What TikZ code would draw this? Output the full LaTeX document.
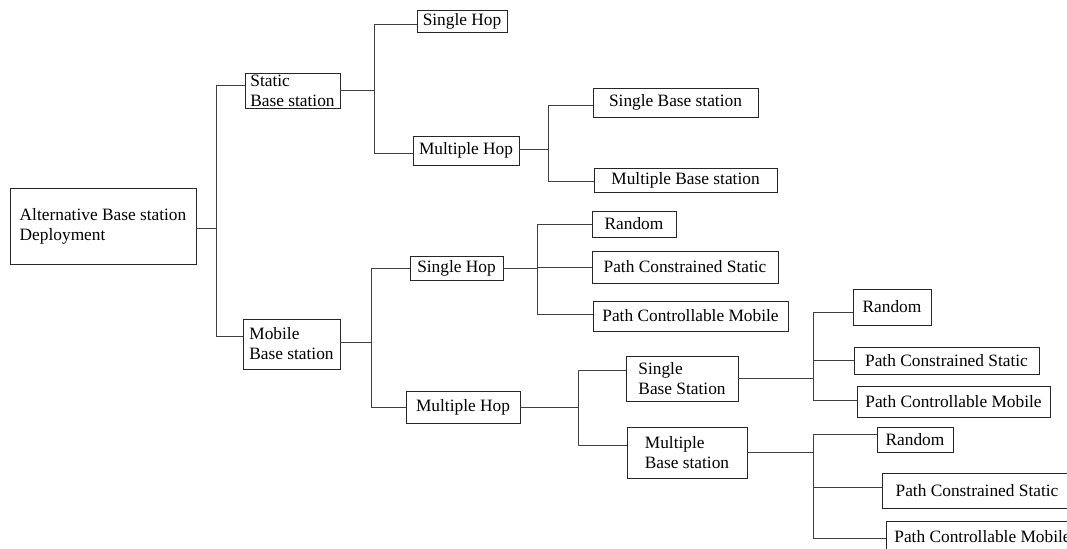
\documentclass[tikz,border=0pt]{standalone}
\usepackage{fontspec}
\setmainfont{Liberation Serif}

\begin{document}
\begin{tikzpicture}[x=0.75pt, y=-0.75pt, line width=0.6pt,
	box/.style={draw=black!85, align=left, inner sep=0pt, font=\fontsize{13}{15}\selectfont},
	link/.style={draw=black!75}]
	\useasboundingbox (0,0) rectangle (1067,549);
	\clip (0,0) rectangle (1067,549); % the reference is cut at the right and bottom
	% level 0 and 1
	\node[box, minimum width=139.5pt, minimum height=57pt] (root) at (103,226) {Alternative Base station\\Deployment};
	\node[box, minimum width=71.25pt, minimum height=26.25pt] (static) at (292.5,90.5) {Static\\Base station};
	\node[box, minimum width=72.75pt, minimum height=37.5pt] (mobile) at (291.5,344) {Mobile\\Base station};
	% static branch
	\node[box, minimum width=67.5pt, minimum height=16.5pt] (shop) at (462,21) {Single Hop};
	\node[box, minimum width=79.5pt, minimum height=21.75pt] (mhop) at (466,150.5) {Multiple Hop};
	\node[box, minimum width=123.75pt, minimum height=21.75pt] (sbase) at (675.5,102.5) {Single Base station};
	\node[box, minimum width=137.25pt, minimum height=18pt] (mbase) at (685.5,180) {Multiple Base station};
	% mobile branch
	\node[box, minimum width=69.75pt, minimum height=18pt] (mshop) at (456.5,268) {Single Hop};
	\node[box, minimum width=85.5pt, minimum height=24pt] (mmhop) at (463,407) {Multiple Hop};
	\node[box, minimum width=63pt, minimum height=19.5pt] (rand1) at (634,224) {Random};
	\node[box, minimum width=139.5pt, minimum height=24pt] (pcs1) at (685,267) {Path Constrained Static};
	\node[box, minimum width=146.25pt, minimum height=22.5pt] (pcm1) at (690.5,316) {Path Controllable Mobile};
	\node[box, minimum width=84pt, minimum height=33.75pt] (msbase) at (682,378.5) {Single\\Base Station};
	\node[box, minimum width=90pt, minimum height=38.25pt] (mmbase) at (687,452.5) {Multiple\\Base station};
	\node[box, minimum width=58.5pt, minimum height=27pt] (rand2) at (892,307) {Random};
	\node[box, minimum width=138.75pt, minimum height=20.25pt] (pcs2) at (946.5,360.5) {Path Constrained Static};
	\node[box, minimum width=144.75pt, minimum height=23.25pt] (pcm2) at (953.5,401.5) {Path Controllable Mobile};
	\node[box, minimum width=57pt, minimum height=18.75pt] (rand3) at (915,439.5) {Random};
	\node[box, minimum width=142.5pt, minimum height=26.25pt] (pcs3) at (977,490.5) {Path Constrained Static};
	\node[box, minimum width=144.75pt, minimum height=23.25pt] (pcm3) at (982.5,536.5) {Path Controllable Mobile};

	% connectors
	\draw[link] ([yshift=-1.5pt]root.east) -- ++(20,0) coordinate (j0);
	\draw[link] ([yshift=4pt]static.west) -| (j0) |- ([yshift=6pt]mobile.west);
	\draw[link] (static.east) -- ++(34,0) coordinate (j1);
	\draw[link] ([yshift=-2.5pt]shop.west) -| (j1) |- ([yshift=-2pt]mhop.west);
	\draw[link] ([yshift=1pt]mhop.east) -- ++(29,0) coordinate (j2);
	\draw[link] ([yshift=-2pt]sbase.west) -| (j2) |- ([yshift=-1pt]mbase.west);
	\draw[link] ([yshift=1pt]mobile.east) -- ++(31,0) coordinate (j3);
	\draw[link] (mshop.west) -| (j3) |- (mmhop.west);
	\draw[link] (mshop.east) -- ++(34,0) coordinate (j4);
	\draw[link] (rand1.west) -| (j4) |- ([yshift=1.5pt]pcm1.west);
	\draw[link] (j4 |- pcs1.west) -- (pcs1.west);
	\draw[link] (mmhop.east) -- ++(58,0) coordinate (j5);
	\draw[link] ([yshift=6pt]msbase.west) -| (j5) |- ([yshift=5pt]mmbase.west);
	\draw[link] (msbase.east) -- ++(75,0) coordinate (j6);
	\draw[link] ([yshift=-4pt]rand2.west) -| (j6) |- ([yshift=1pt]pcm2.west);
	\draw[link] (j6 |- pcs2.west) -- (pcs2.west);
	\draw[link] (mmbase.east) -- ++(66,0) coordinate (j7);
	\draw[link] ([yshift=4pt]rand3.west) -| (j7) |- ([yshift=-1.5pt]pcm3.west);
	\draw[link] ([yshift=2pt]j7 |- pcs3.west) -- ([yshift=2pt]pcs3.west);
\end{tikzpicture}
\end{document}
